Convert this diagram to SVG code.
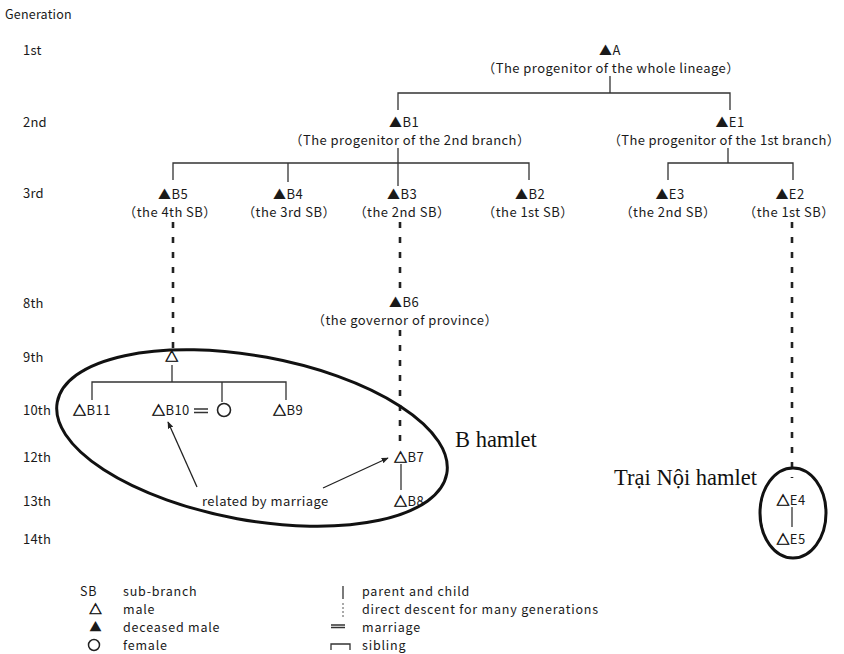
<svg xmlns="http://www.w3.org/2000/svg" width="844" height="654" viewBox="0 0 844 654">
<defs>
<style>
text{font-family:"Noto Sans CJK JP","Noto Sans",sans-serif;font-size:13px;fill:#1a1a1a;letter-spacing:0.45px}
.m{text-anchor:middle}
.g{letter-spacing:0.2px}
.t{stroke:#1a1a1a;stroke-width:0.7}
.lg{font-size:12.5px;letter-spacing:0.8px}
.ser{font-family:"Liberation Serif","Times New Roman",serif;font-size:22.5px;fill:#111;letter-spacing:0}
.ln{fill:none;stroke:#333;stroke-width:1.3}
.ds{fill:none;stroke:#222;stroke-width:2.6;stroke-dasharray:6 9}
.el{fill:none;stroke:#111;stroke-width:3}
.ar{fill:none;stroke:#222;stroke-width:1.3;marker-end:url(#ah)}
</style>
<marker id="ah" viewBox="0 0 10 10" refX="9" refY="5" markerWidth="7" markerHeight="7" orient="auto" markerUnits="userSpaceOnUse">
<path d="M0 1 L10 5 L0 9 Z" fill="#222"/>
</marker>
</defs>
<rect width="844" height="654" fill="#fff"/>

<g id="generations">
<text class="g" x="5" y="19" style="font-size:12.5px">Generation</text>
<text class="g" x="23" y="55">1st</text>
<text class="g" x="23" y="127">2nd</text>
<text class="g" x="23" y="198">3rd</text>
<text class="g" x="23" y="308">8th</text>
<text class="g" x="23" y="362">9th</text>
<text class="g" x="23" y="415">10th</text>
<text class="g" x="23" y="462">12th</text>
<text class="g" x="23" y="506">13th</text>
<text class="g" x="23" y="544">14th</text>
</g>

<g id="connectors">
<path class="ln" d="M610 76 V93"/>
<path class="ln" d="M398 110 V93 H730 V110"/>
<path class="ln" d="M398 148 V186"/>
<path class="ln" d="M173 180 V163 H529 V180"/>
<path class="ln" d="M288 163 V182"/>
<path class="ln" d="M728 148 V163"/>
<path class="ln" d="M668 180 V163 H793 V180"/>
<path class="ds" d="M173 222 V348"/>
<path class="ds" d="M400 222 V292"/>
<path class="ds" d="M400 330 V448"/>
<path class="ds" d="M792 222 V478"/>
<path class="ln" d="M172 365 V382"/>
<path class="ln" d="M92 400 V382 H286 V400"/>
<path class="ln" d="M222 382 V402"/>
<path class="ln" d="M194 409 H208 M194 412.5 H208" style="stroke-width:1.6"/>
<path class="ln" d="M401 464 V490"/>
<path class="ln" d="M792 507 V527"/>
<path class="ar" d="M197 487 L168 422"/>
<path class="ar" d="M323 488 L388 458"/>
</g>

<g id="A"><text class="m" x="610" y="55">▲A</text><text class="m" x="611" y="73">（The progenitor of the whole lineage）</text></g>
<g id="B1"><text class="m" x="404" y="127">▲B1</text><text class="m" x="410" y="145">（The progenitor of the 2nd branch）</text></g>
<g id="E1"><text class="m" x="730" y="127">▲E1</text><text class="m" x="724" y="145" style="letter-spacing:0.35px">（The progenitor of the 1st branch）</text></g>
<g id="B5"><text class="m" x="173" y="199">▲B5</text><text class="m" x="170" y="217">（the 4th SB）</text></g>
<g id="B4"><text class="m" x="288" y="199">▲B4</text><text class="m" x="289" y="217">（the 3rd SB）</text></g>
<g id="B3"><text class="m" x="402" y="199">▲B3</text><text class="m" x="402" y="217">（the 2nd SB）</text></g>
<g id="B2"><text class="m" x="530" y="199">▲B2</text><text class="m" x="528" y="217">（the 1st SB）</text></g>
<g id="E3"><text class="m" x="670" y="199">▲E3</text><text class="m" x="668" y="217">（the 2nd SB）</text></g>
<g id="E2"><text class="m" x="790" y="199">▲E2</text><text class="m" x="789" y="217">（the 1st SB）</text></g>
<g id="B6"><text class="m" x="404" y="307">▲B6</text><text class="m" x="405" y="325">（the governor of province）</text></g>
<g id="G9"><text class="m t" x="172" y="361">△</text></g>
<g id="B11"><text class="m" x="92" y="415"><tspan class="t">△</tspan>B11</text></g>
<g id="B10"><text x="152" y="415"><tspan class="t">△</tspan>B10</text></g>
<g id="F10"><circle cx="224" cy="410" r="6.5" fill="none" stroke="#222" stroke-width="1.6"/></g>
<g id="B9"><text class="m" x="288" y="415"><tspan class="t">△</tspan>B9</text></g>
<g id="B7"><text x="394" y="462"><tspan class="t">△</tspan>B7</text></g>
<g id="B8"><text x="394" y="506"><tspan class="t">△</tspan>B8</text></g>
<g id="E4"><text class="m" x="791" y="505"><tspan class="t">△</tspan>E4</text></g>
<g id="E5"><text class="m" x="791" y="544"><tspan class="t">△</tspan>E5</text></g>
<g id="note"><text x="202" y="506">related by marriage</text></g>

<g id="Bhamlet">
<ellipse class="el" cx="252" cy="438" rx="198" ry="82" transform="rotate(10.4 252 438)"/>
<text class="ser" x="455" y="447">B hamlet</text>
</g>
<g id="TraiNoi">
<ellipse class="el" cx="793" cy="513" rx="33" ry="45"/>
<text class="ser" x="757" y="485" text-anchor="end">Trại Nội hamlet</text>
</g>

<g id="legend">
<text class="lg" x="80" y="596">SB</text>
<text class="lg" x="123" y="596">sub-branch</text>
<text class="lg m t" x="96" y="614">△</text>
<text class="lg" x="123" y="614">male</text>
<text class="lg m" x="96" y="632">▲</text>
<text class="lg" x="123" y="632">deceased male</text>
<circle cx="94" cy="645" r="5.5" fill="none" stroke="#222" stroke-width="1.5"/>
<text class="lg" x="123" y="650">female</text>
<path class="ln" d="M343 586 V599"/>
<path d="M343 603 V617" fill="none" stroke="#555" stroke-width="1" stroke-dasharray="2 2"/>
<path class="ln" d="M331 625 H345 M331 627.5 H345"/>
<path class="ln" d="M331 650 V644 H350 V650"/>
<text class="lg" x="362" y="596">parent and child</text>
<text class="lg" x="362" y="614">direct descent for many generations</text>
<text class="lg" x="362" y="632">marriage</text>
<text class="lg" x="362" y="650">sibling</text>
</g>
</svg>
